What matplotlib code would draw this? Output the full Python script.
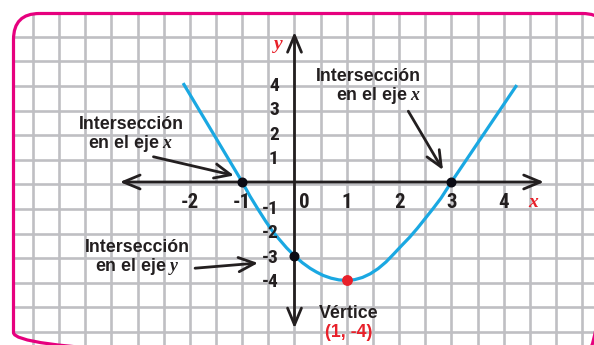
import matplotlib
matplotlib.use('Agg')
import matplotlib.pyplot as plt
from matplotlib.patches import FancyBboxPatch
from matplotlib.transforms import Affine2D

# ---------------- data ----------------
curve_x = [-2.13, -1.0, -0.85, -0.7, -0.55, -0.42, -0.3, -0.15, 0.0, 0.15,
           0.3, 0.42, 0.55, 0.7, 0.85, 1.0, 1.15, 1.3, 1.45, 1.6, 1.75, 1.9,
           2.05, 2.2, 2.35, 2.5, 2.65, 2.8, 3.0, 4.25]
curve_y = [4.02, 0.0, -0.58, -1.1, -1.6, -2.0, -2.31, -2.68, -3.0, -3.28,
           -3.51, -3.66, -3.8, -3.91, -3.98, -4.0, -3.97, -3.88, -3.73, -3.52,
           -3.25, -2.92, -2.58, -2.25, -1.88, -1.48, -1.08, -0.66, 0.0, 3.94]
x_intercepts = [(-1, 0), (3, 0)]
y_intercept = (0, -3)
vertex = (1, -4)
x_tick_values = [-2, -1, 0, 1, 2, 3, 4]
y_tick_values = [4, 3, 2, 1, -1, -2, -3, -4]

lbl_intercept_x = "Intersección\nen el eje $x$"
lbl_intercept_y = "Intersección\nen el eje $y$"
lbl_vertex = "Vértice"
lbl_vertex_coord = "(1, -4)"

# ---------------- style ----------------
plt.rcParams['mathtext.fontset'] = 'custom'
plt.rcParams['mathtext.it'] = 'Liberation Serif:italic:bold'
plt.rcParams['mathtext.rm'] = 'Liberation Serif:bold'

PINK = '#E6007E'
GRID = '#BFBFC3'
CYAN = '#1AA8E2'
RED = '#E8202A'
INK = '#231F20'
NUMFONT = ['Roboto Condensed', 'DejaVu Sans']
TXTFONT = ['Liberation Sans', 'DejaVu Sans']

W, H = 594, 345
fig = plt.figure(figsize=(W / 100, H / 100), dpi=100)
ax = fig.add_axes([0, 0, 1, 1])
X0, XU = 294.5, 52.3
Y0, YU = 182.0, 24.6
ax.set_xlim(-X0 / XU, (W - X0) / XU)
ax.set_ylim((Y0 - H) / YU, Y0 / YU)
ax.axis('off')

# pixel transform (origin top-left)
px = Affine2D().scale(1 / W, -1 / H).translate(0, 1) + fig.transFigure

box = dict(boxstyle='round,pad=0,rounding_size=26', transform=px)
clip = FancyBboxPatch((13.5, 13.5), 595, 345, **box)
frame = FancyBboxPatch((13.5, 13.5), 595, 345, facecolor='none',
                       edgecolor=PINK, lw=2.3, zorder=6, **box)
fig.add_artist(frame)

# grid
for k in range(-12, 13):
    l = ax.axvline(k * 0.5, color=GRID, lw=1.9, zorder=1)
    l.set_clip_path(clip)
for k in range(-8, 9):
    l = ax.axhline(k - 0.1, color=GRID, lw=1.9, zorder=1)
    l.set_clip_path(clip)

# axes with arrows
axis_style = '<->,head_length=1.2,head_width=0.5'
ax.annotate('', xy=(4.77, 0), xytext=(-3.34, 0),
            arrowprops=dict(arrowstyle=axis_style, lw=2.0, color=INK,
                            shrinkA=0, shrinkB=0), zorder=3)
ax.annotate('', xy=(0, 6.1), xytext=(0, -5.95),
            arrowprops=dict(arrowstyle=axis_style, lw=2.0, color=INK,
                            shrinkA=0, shrinkB=0), zorder=3)

# curve
ax.plot(curve_x, curve_y, color=CYAN, lw=2.3, zorder=4,
        solid_capstyle='butt', solid_joinstyle='round')

# points
for (xx, yy) in x_intercepts + [y_intercept]:
    ax.plot(xx, yy, 'o', color='#0B0B14', ms=6.2, zorder=5)
ax.plot(vertex[0], vertex[1], 'o', color=RED, ms=6.8, zorder=5)

# tick labels
for v in x_tick_values:
    xpos = v + (0.18 if v == 0 else 0)
    ax.text(xpos, -0.85, f"{v}", ha='center', va='center',
            fontsize=15, family=NUMFONT, weight='bold', color=INK, zorder=5)
for v in y_tick_values:
    ax.text(-0.30, v - 0.08, f"{v}", ha='right', va='center',
            fontsize=14, family=NUMFONT, weight='bold', color=INK, zorder=5)

# axis letters
ax.text(-0.31, 5.57, 'y', ha='center', va='center', fontsize=14,
        family='Liberation Serif', style='italic', weight='bold', color=RED,
        zorder=5)
ax.text(4.56, -0.85, 'x', ha='center', va='center', fontsize=14,
        family='Liberation Serif', style='italic', weight='bold', color=RED,
        zorder=5)

# annotations
ann_style = '->,head_length=0.9,head_width=0.4'
txt_kw = dict(fontsize=12.8, weight='bold', family=TXTFONT, color=INK,
              linespacing=1.0, zorder=5)
ax.annotate(lbl_intercept_x, xy=(-1.157, 0.264), xytext=(-3.126, 1.91),
            ha='center', va='center', multialignment='center',
            arrowprops=dict(arrowstyle=ann_style, lw=2.0, color=INK,
                            shrinkA=0, shrinkB=0, relpos=(0.6, 0.0)),
            **txt_kw)
ax.annotate(lbl_intercept_x, xy=(2.839, 0.488), xytext=(2.419, 3.86),
            ha='right', va='center', multialignment='right',
            arrowprops=dict(arrowstyle=ann_style, lw=2.0, color=INK,
                            shrinkA=2, shrinkB=0, relpos=(0.85, 0.0)),
            **txt_kw)
ax.annotate(lbl_intercept_y, xy=(-0.698, -3.293), xytext=(-3.011, -3.09),
            ha='center', va='center', multialignment='center',
            arrowprops=dict(arrowstyle=ann_style, lw=2.0, color=INK,
                            shrinkA=2, shrinkB=0, relpos=(1.0, 0.22)),
            **txt_kw)
ax.text(1.04, -5.33, lbl_vertex, ha='center', va='center', **txt_kw)
txt_kw['color'] = RED
ax.text(1.04, -6.1, lbl_vertex_coord, ha='center', va='center', **txt_kw)

fig.savefig('out.png', dpi=100)
